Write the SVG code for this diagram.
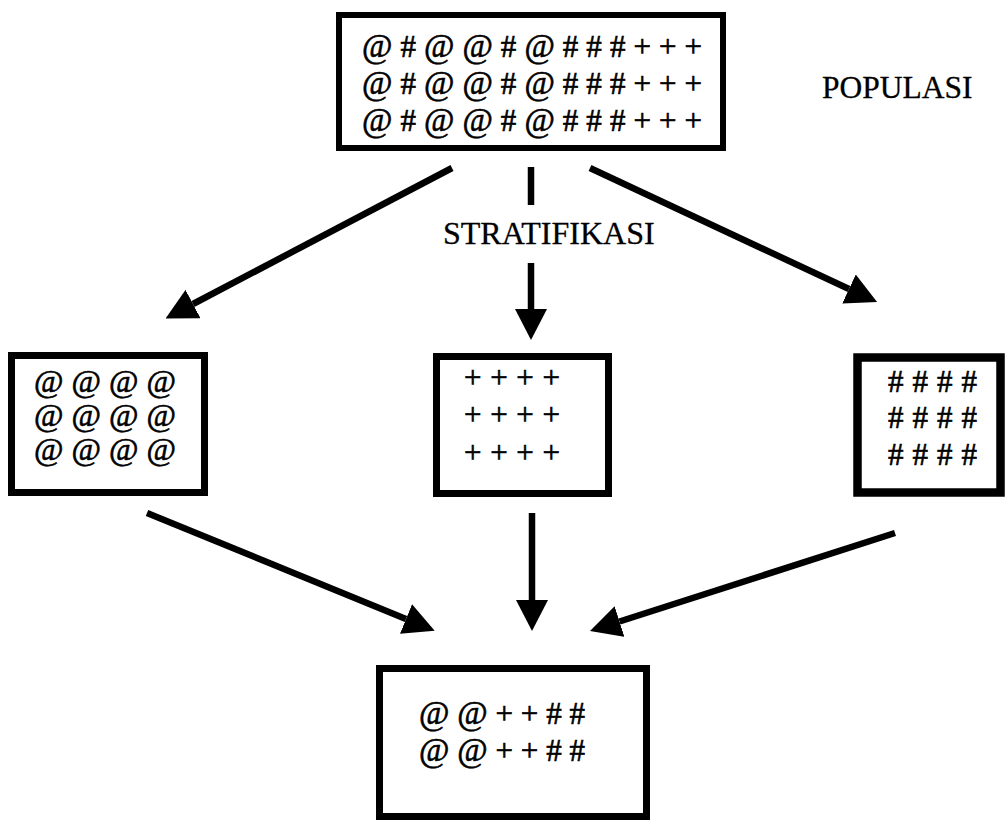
<svg xmlns="http://www.w3.org/2000/svg" width="1005" height="823" viewBox="0 0 1005 823">
<style>
.box{fill:#fff;stroke:#000;stroke-width:7}
.t{font-family:"Liberation Serif","Times New Roman",serif;font-size:31px;fill:#000;stroke:#000;stroke-width:0.6}
.at{font-size:33px}
.at2{font-size:32px}
.lbl{font-family:"Liberation Serif","Times New Roman",serif;font-size:32px;fill:#000;stroke:#000;stroke-width:0.3}
.c{stroke:#000;stroke-width:6.5;fill:none}
.a{marker-end:url(#ah)}
</style>
<defs>
<marker id="ah" markerUnits="userSpaceOnUse" viewBox="0 0 31 32" refX="0" refY="16" markerWidth="31" markerHeight="32" orient="auto">
<path d="M0,0 L31,16 L0,32 Z" fill="#000"/>
</marker>
</defs>
<rect width="1005" height="823" fill="#fff"/>
<g id="connectors">
<line class="c a" x1="452" y1="168" x2="193" y2="304"/>
<line class="c" x1="531" y1="167" x2="531" y2="205"/>
<line class="c a" x1="531" y1="263" x2="531" y2="309"/>
<line class="c a" x1="590" y1="168" x2="849" y2="289"/>
<line class="c a" x1="147" y1="513" x2="406" y2="619"/>
<line class="c a" x1="532" y1="513" x2="532" y2="600"/>
<line class="c a" x1="895" y1="533" x2="619.5" y2="621.5"/>
</g>
<g id="populasi-box">
<rect class="box" x="339" y="15" width="384" height="133" style="stroke-width:6"/>
<text class="t" x="362" y="57" textLength="340" lengthAdjust="spacing"><tspan class="at">@</tspan> # <tspan class="at">@</tspan> <tspan class="at">@</tspan> # <tspan class="at">@</tspan> # # # + + +</text>
<text class="t" x="362" y="94" textLength="340" lengthAdjust="spacing"><tspan class="at">@</tspan> # <tspan class="at">@</tspan> <tspan class="at">@</tspan> # <tspan class="at">@</tspan> # # # + + +</text>
<text class="t" x="362" y="131" textLength="340" lengthAdjust="spacing"><tspan class="at">@</tspan> # <tspan class="at">@</tspan> <tspan class="at">@</tspan> # <tspan class="at">@</tspan> # # # + + +</text>
</g>
<g id="label-populasi">
<text class="lbl" x="822" y="98" style="font-size:31.5px">POPULASI</text>
</g>
<g id="label-stratifikasi">
<text class="lbl" x="443" y="244">STRATIFIKASI</text>
</g>
<g id="stratum-at">
<rect class="box" x="11.5" y="355.5" width="193" height="137"/>
<text class="t at2" x="34" y="392" textLength="142" lengthAdjust="spacing">@ @ @ @</text>
<text class="t at2" x="34" y="426" textLength="142" lengthAdjust="spacing">@ @ @ @</text>
<text class="t at2" x="34" y="460" textLength="142" lengthAdjust="spacing">@ @ @ @</text>
</g>
<g id="stratum-plus">
<rect class="box" x="436.5" y="356.5" width="172" height="137"/>
<text class="t" x="464" y="388" textLength="96" lengthAdjust="spacing">+ + + +</text>
<text class="t" x="464" y="425" textLength="96" lengthAdjust="spacing">+ + + +</text>
<text class="t" x="464" y="463" textLength="96" lengthAdjust="spacing">+ + + +</text>
</g>
<g id="stratum-hash">
<rect class="box" x="857.5" y="357.5" width="143" height="135" style="stroke-width:8.5"/>
<text class="t" x="888" y="392" textLength="89" lengthAdjust="spacing"># # # #</text>
<text class="t" x="888" y="428" textLength="89" lengthAdjust="spacing"># # # #</text>
<text class="t" x="888" y="465" textLength="89" lengthAdjust="spacing"># # # #</text>
</g>
<g id="sample-box">
<rect class="box" x="379.5" y="668.5" width="267" height="148"/>
<text class="t" x="419" y="724" textLength="166" lengthAdjust="spacing"><tspan class="at">@</tspan> <tspan class="at">@</tspan> + + # #</text>
<text class="t" x="419" y="761" textLength="166" lengthAdjust="spacing"><tspan class="at">@</tspan> <tspan class="at">@</tspan> + + # #</text>
</g>
</svg>
